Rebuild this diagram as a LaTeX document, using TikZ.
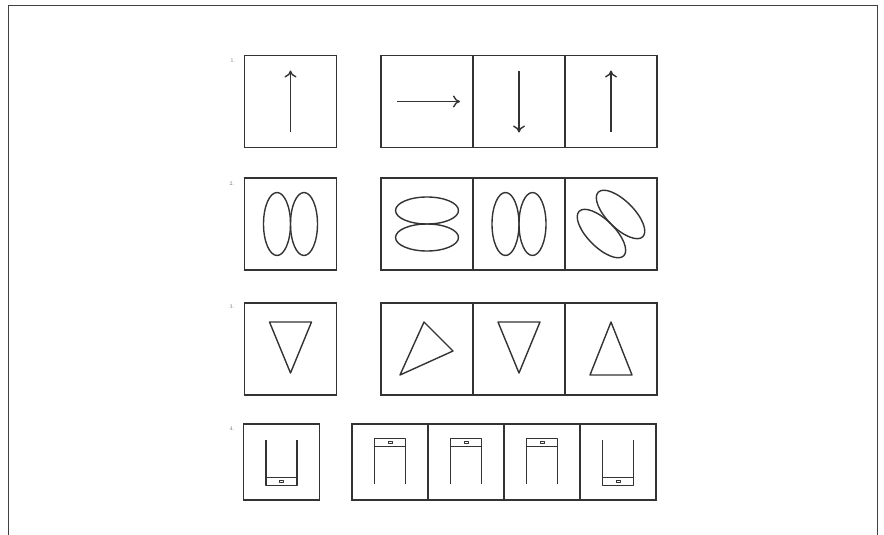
\documentclass[tikz,border=0pt]{standalone}
\usepackage{tikz}
\usetikzlibrary{arrows.meta,positioning}
\definecolor{ink}{HTML}{333333}
% two touching ellipses, turned by #2
\newcommand{\ovalpair}[2]{%
  \begin{scope}[shift={(#1.center)}, rotate=#2]
    \draw[glyph] (-13.5,0) ellipse [x radius=13.5pt, y radius=31.5pt];
    \draw[glyph] (13.5,0) ellipse [x radius=13.5pt, y radius=31.5pt];
  \end{scope}}
% open frame with a tray, #2 = 1 open at top, -1 open at bottom
\newcommand{\trayglyph}[2]{%
  \begin{scope}[shift={(#1.center)}, yscale=#2]
    \draw[glyph] (-15.5,-22) -- (-15.5,23.5) -- (15.5,23.5) -- (15.5,-22);
    \draw[glyph] (-15.5,15.5) -- (15.5,15.5);
    \draw[glyph, line width=0.7pt] (-2,18.3) rectangle (2,20.7);
  \end{scope}}

\begin{document}
\begin{tikzpicture}[x=1pt, y=-1pt, >={To[length=7pt,width=12pt]}, node distance=0pt,
    cell/.style={draw=ink, line width=1.8pt, minimum size=92pt, inner sep=0pt, outer sep=0pt},
    smallcell/.style={cell, minimum size=76pt},
    glyph/.style={draw=ink, line width=1.4pt, line join=round},
    num/.style={text=black!55, font=\fontsize{5.5}{6}\selectfont, inner sep=0pt}]
    \useasboundingbox (0,0) rectangle (884,535);
    \draw[black!75, line width=1pt] (8,535) -- (8,6) -- (877,6) -- (877,535);

    % 1. arrows
    \node[num] (N1) at (233,61) {1.};
    \node[cell] (Q1) at (290.5,101.5) {};
    \node[cell] (O1a) at (427,101.5) {};
    \node[cell, right=of O1a] (O1b) {};
    \node[cell, right=of O1b] (O1c) {};
    \draw[glyph, ->, shift={(Q1.center)}] (0,30) -- (0,-31);
    \draw[glyph, ->, shift={(O1a.center)}] (-30,0) -- (33,0);
    \draw[glyph, ->, shift={(O1b.center)}] (0,-30) -- (0,31);
    \draw[glyph, ->, shift={(O1c.center)}] (0,30) -- (0,-31);

    % 2. ellipses
    \node[num] (N2) at (232,184) {2.};
    \node[cell] (Q2) at (290.5,224) {};
    \node[cell] (O2a) at (427,224) {};
    \node[cell, right=of O2a] (O2b) {};
    \node[cell, right=of O2b] (O2c) {};
    \ovalpair{Q2}{0}
    \ovalpair{O2a}{90}
    \ovalpair{O2b}{0}
    \ovalpair{O2c}{45}

    % 3. triangles
    \node[num] (N3) at (232,307) {3.};
    \node[cell] (Q3) at (290.5,349) {};
    \node[cell] (O3a) at (427,349) {};
    \node[cell, right=of O3a] (O3b) {};
    \node[cell, right=of O3b] (O3c) {};
    \draw[glyph, shift={(Q3.center)}] (-21,-27) -- (21,-27) -- (0,24) -- cycle;
    \draw[glyph, shift={(O3a.center)}] (-3,-27) -- (26,2) -- (-27,26) -- cycle;
    \draw[glyph, shift={(O3b.center)}] (-21,-27) -- (21,-27) -- (0,24) -- cycle;
    \draw[glyph, shift={(O3c.center)}] (0,-27) -- (21,26) -- (-21,26) -- cycle;

    % 4. trays
    \node[num] (N4) at (232,429) {4.};
    \node[smallcell] (Q4) at (281.5,462) {};
    \node[smallcell] (O4a) at (390,462) {};
    \node[smallcell, right=of O4a] (O4b) {};
    \node[smallcell, right=of O4b] (O4c) {};
    \node[smallcell, right=of O4c] (O4d) {};
    \trayglyph{Q4}{1}
    \trayglyph{O4a}{-1}
    \trayglyph{O4b}{-1}
    \trayglyph{O4c}{-1}
    \trayglyph{O4d}{1}
\end{tikzpicture}
\end{document}
